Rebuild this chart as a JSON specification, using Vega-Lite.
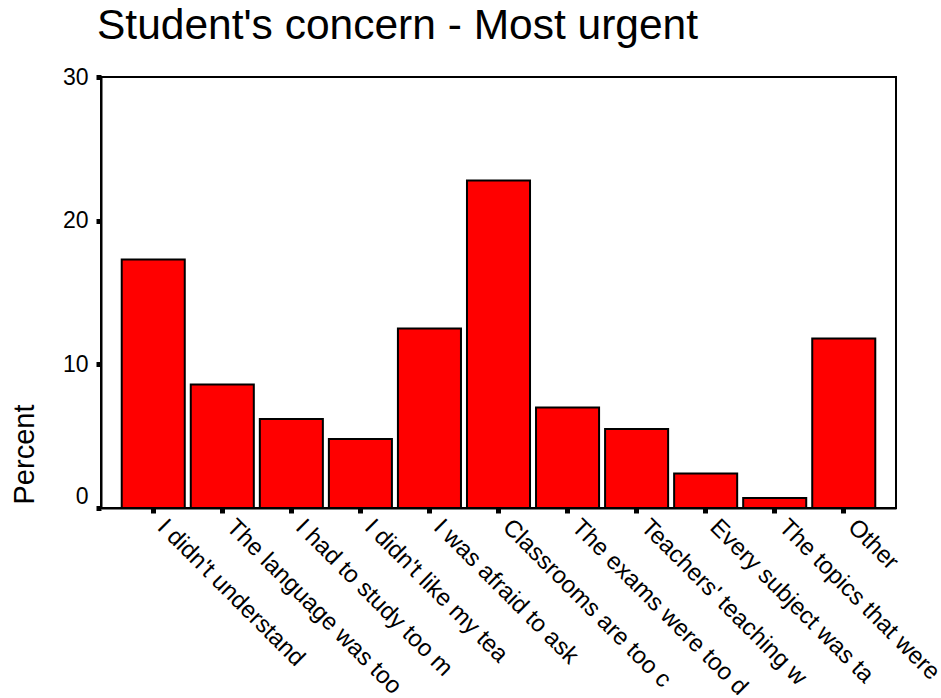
{
  "$schema": "https://vega.github.io/schema/vega-lite/v6.json",
  "width": 795,
  "height": 431,
  "autosize": {"type": "none"},
  "padding": {"left": 101, "top": 77, "right": 45, "bottom": 190},
  "background": "white",
  "title": {
    "text": "Student's concern - Most urgent",
    "anchor": "start",
    "frame": "group",
    "font": "Liberation Sans",
    "fontSize": 42.5,
    "fontWeight": "normal",
    "color": "black",
    "baseline": "alphabetic",
    "offset": -15,
    "dx": -4
  },
  "config": {
    "view": {"stroke": "black", "strokeWidth": 2},
    "axis": {
      "labelFont": "Liberation Sans",
      "titleFont": "Liberation Sans",
      "labelColor": "black",
      "titleColor": "black",
      "domainColor": "black",
      "domainWidth": 2,
      "tickColor": "black",
      "grid": false
    }
  },
  "data": {
    "values": [
      {"concern": "I didn't understand", "percent": 17.3},
      {"concern": "The language was too", "percent": 8.6},
      {"concern": "I had to study too m", "percent": 6.2},
      {"concern": "I didn't like my tea", "percent": 4.8},
      {"concern": "I was afraid to ask", "percent": 12.5},
      {"concern": "Classrooms are too c", "percent": 22.8},
      {"concern": "The exams were too d", "percent": 7.0},
      {"concern": "Teachers' teaching w", "percent": 5.5},
      {"concern": "Every subject was ta", "percent": 2.4},
      {"concern": "The topics that were", "percent": 0.7},
      {"concern": "Other", "percent": 11.8}
    ]
  },
  "mark": {"type": "bar", "fill": "#FF0000", "stroke": "black", "strokeWidth": 2},
  "encoding": {
    "x": {
      "field": "concern",
      "type": "nominal",
      "sort": null,
      "scale": {"paddingInner": 0.087, "paddingOuter": 0.3},
      "axis": {
        "title": null,
        "labelAngle": 45,
        "labelAlign": "left",
        "labelBaseline": "middle",
        "labelFontSize": 24,
        "labelPadding": 10,
        "labelOffset": 8,
        "labelLimit": 400,
        "tickSize": 5,
        "tickWidth": 5
      }
    },
    "y": {
      "field": "percent",
      "type": "quantitative",
      "scale": {"domain": [0, 30], "nice": false},
      "axis": {
        "title": "Percent",
        "titleFontSize": 29,
        "titleFontWeight": "normal",
        "titleAngle": -90,
        "titleAlign": "center",
        "titleBaseline": "alphabetic",
        "titleX": -68,
        "titleY": 377,
        "values": [0, 10, 20, 30],
        "labelFontSize": 23,
        "labelPadding": 8,
        "labelOffset": {"condition": {"test": "datum.value == 0", "value": -12}, "value": 0},
        "tickSize": 5,
        "tickWidth": 5
      }
    }
  }
}
